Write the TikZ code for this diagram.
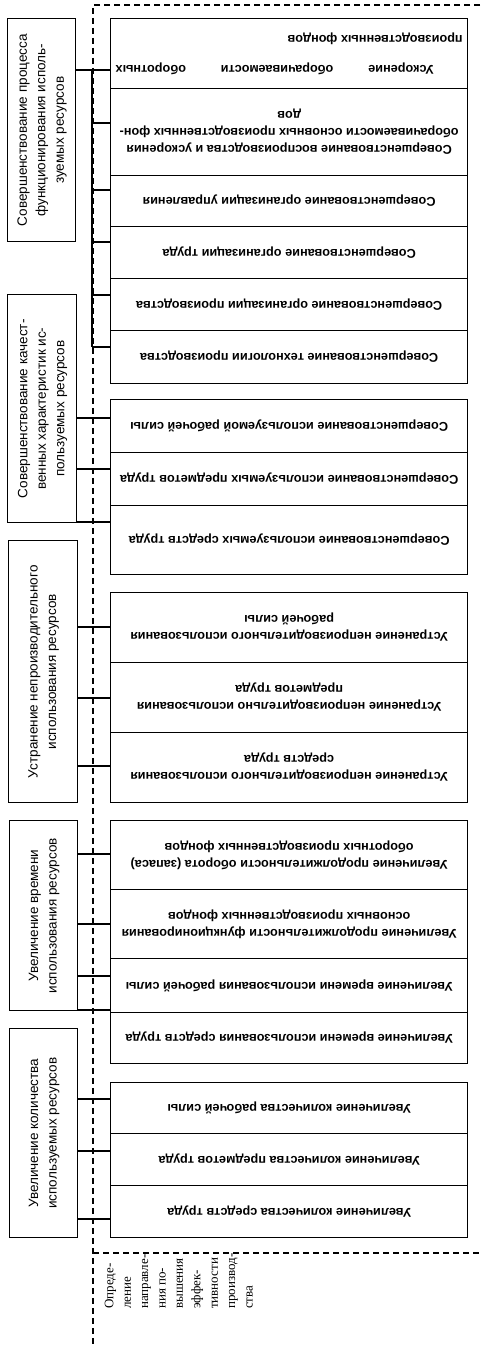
\documentclass[tikz,border=0pt]{standalone}
\usepackage{fontspec}
\usepackage{graphicx}
\setmainfont{Liberation Sans}
\newfontfamily\itemfont{Liberation Sans}
\newfontfamily\goalfont{Liberation Serif}

% text of a measure box, turned upside down
\newcommand\itemtext[1]{\rotatebox{180}{\itemfont\bfseries\fontsize{12.7}{17}\selectfont
  \begin{tabular}{@{}c@{}}#1\end{tabular}}}
% text of a group box, reading upwards
\newcommand\cattext[1]{\rotatebox{90}{\fontsize{13.5}{18.5}\selectfont
  \begin{tabular}{@{}c@{}}#1\end{tabular}}}
% measure box: name, top, bottom, text
\newcommand\itemnode[4]{\node[itembox, minimum height={(#3-#2)*1pt}] (#1) at (110,#2) {#4};}
% group box: name, left, top, right, bottom, text
\newcommand\catnode[6]{\node[catbox, minimum width={(#4-#2)*1pt}, minimum height={(#5-#3)*1pt}] (#1) at (#2,#3) {\cattext{#6}};}

\begin{document}
\begin{tikzpicture}[x=1pt,y=-1pt,
  catbox/.style={draw, line width=1.4pt, inner sep=0pt, anchor=north west},
  itembox/.style={draw, line width=1.4pt, inner sep=0pt, anchor=north west, minimum width=357pt},
  link/.style={line width=1.4pt},
  border/.style={line width=1.1pt, dash pattern=on 6pt off 4pt},
]
\useasboundingbox (0,0) rectangle (480,1346);

% measures
\itemnode{r1}{18}{88}{\rotatebox{180}{\itemfont\bfseries\fontsize{12.7}{17}\selectfont
  \parbox{347pt}{\hspace*{29pt}\makebox[318pt][s]{Ускорение оборачиваемости оборотных}\\[13pt]производственных фондов}}}
\itemnode{r2}{88}{175}{\itemtext{Совершенствование воспроизводства и ускорения\\оборачиваемости основных производственных фон-\\дов}}
\itemnode{r3}{175}{226}{\itemtext{Совершенствование организации управления}}
\itemnode{r4}{226}{278}{\itemtext{Совершенствование организации труда}}
\itemnode{r5}{278}{330}{\itemtext{Совершенствование организации производства}}
\itemnode{r6}{330}{383}{\itemtext{Совершенствование технологии производства}}
\itemnode{r7}{399}{452}{\itemtext{Совершенствование используемой рабочей силы}}
\itemnode{r8}{452}{505}{\itemtext{Совершенствование используемых предметов труда}}
\itemnode{r9}{505}{574}{\itemtext{Совершенствование используемых средств труда}}
\itemnode{r10}{592}{662}{\itemtext{Устранение непроизводительного использования\\рабочей силы}}
\itemnode{r11}{662}{732}{\itemtext{Устранение непроизводительно использования\\предметов труда}}
\itemnode{r12}{732}{802}{\itemtext{Устранение непроизводительного использования\\средств труда}}
\itemnode{r13}{820}{889}{\itemtext{Увеличение продолжительности оборота (запаса)\\оборотных производственных фондов}}
\itemnode{r14}{889}{958}{\itemtext{Увеличение продолжительности функционирования\\основных производственных фондов}}
\itemnode{r15}{958}{1012}{\itemtext{Увеличение времени использования рабочей силы}}
\itemnode{r16}{1012}{1063}{\itemtext{Увеличение времени использования средств труда}}
\itemnode{r17}{1082}{1133}{\itemtext{Увеличение количества рабочей силы}}
\itemnode{r18}{1133}{1185}{\itemtext{Увеличение количества предметов труда}}
\itemnode{r19}{1185}{1237}{\itemtext{Увеличение количества средств труда}}

% groups
\catnode{c1}{7}{18}{75}{241}{Совершенствование процесса\\функционирования исполь-\\зуемых ресурсов}
\catnode{c2}{7}{294}{76}{522}{Совершенствование качест-\\венных характеристик ис-\\пользуемых ресурсов}
\catnode{c3}{8}{540}{77}{802}{Устранение непроизводительного\\использования ресурсов}
\catnode{c4}{9}{820}{77}{1010}{Увеличение времени\\использования ресурсов}
\catnode{c5}{9}{1028}{77}{1237}{Увеличение количества\\используемых ресурсов}

% dashed frame
\coordinate (ftl) at (93,5);
\coordinate (ftr) at (480,5);
\coordinate (fbl) at (93,1346);
\coordinate (fml) at (93,1253);
\coordinate (fmr) at (480,1253);
\draw[border] (ftr) -- (ftl) -- (fbl);
\draw[border] (fml) -- (fmr);

% group 1: bracket
\foreach \i/\y in {1/70,2/123,3/190,4/242,5/295,6/347}{\coordinate (b\i) at (92,\y);}
\draw[link] (c1.east |- b1) -- (r1.west |- b1);
\draw[link] (b1) -- (b6);
\foreach \i in {2,...,6}{\draw[link] (b\i) -- (r\i.west |- b\i);}

% groups 2-5: direct links
\foreach \g/\r/\y in {c2/r7/418,c2/r8/469,c2/r9/522,
                      c3/r10/627,c3/r11/698,c3/r12/766,
                      c4/r13/854,c4/r14/924,c4/r15/976,c4/r16/1010,
                      c5/r17/1099,c5/r18/1151,c5/r19/1219}{
  \coordinate (l-\r) at (92,\y);
  \draw[link] (\g.east |- l-\r) -- (\r.west |- l-\r);
}

% goal
\node[anchor=south west, inner sep=0pt] (goal) at (101,1309) {\rotatebox{90}{\goalfont\fontsize{13}{17.4}\selectfont
  \begin{tabular}{@{}l@{}}Опреде-\\ление\\направле-\\ния по-\\вышения\\эффек-\\тивности\\производ-\\ства\end{tabular}}};
\end{tikzpicture}
\end{document}
